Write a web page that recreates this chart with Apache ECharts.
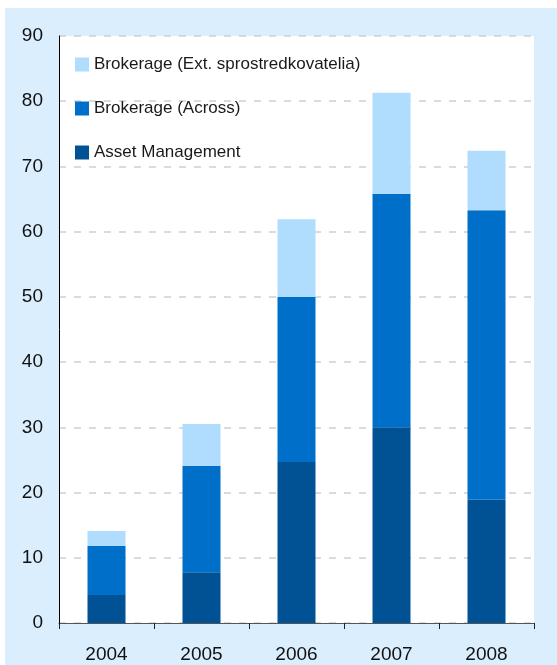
<!DOCTYPE html>
<html>
<head>
<meta charset="utf-8">
<script src="https://cdn.jsdelivr.net/npm/echarts@6/dist/echarts.min.js"></script>
<style>
html,body{margin:0;padding:0;background:#ffffff;}
#chart{width:557px;height:665px;}
</style>
</head>
<body>
<div id="chart"></div>
<script>
const categories = ['2004', '2005', '2006', '2007', '2008'];
const assetManagement = [4.3, 7.8, 24.7, 30.0, 18.9];
const brokerageAcross = [7.5, 16.3, 25.3, 35.8, 44.4];
const brokerageExt = [2.3, 6.4, 11.9, 15.5, 9.1];
const yTicks = { min: 0, max: 90, interval: 10 };
const seriesNames = ['Brokerage (Ext. sprostredkovatelia)', 'Brokerage (Across)', 'Asset Management'];

const chart = echarts.init(document.getElementById('chart'), null, { renderer: 'canvas' });
const font = '"Liberation Sans", Arial, sans-serif';
chart.setOption({
  animation: false,
  backgroundColor: 'transparent',
  graphic: [{
    type: 'rect', z: -10, silent: true,
    shape: { x: 5, y: 8, width: 552, height: 657 },
    style: { fill: '#dbeefd' }
  }],
  grid: {
    left: 59, right: 23, top: 36, bottom: 42,
    show: true, backgroundColor: '#ffffff', borderWidth: 0
  },
  legend: {
    orient: 'vertical',
    left: 75, top: 56,
    padding: 0,
    itemWidth: 14, itemHeight: 14, itemGap: 27, itemTextGap: 5,
    icon: 'rect',
    data: seriesNames,
    textStyle: { fontFamily: font, fontSize: 17, lineHeight: 17, color: '#1a1a1a' }
  },
  xAxis: {
    type: 'category',
    data: categories,
    axisLine: { lineStyle: { color: '#555555', width: 1 } },
    axisTick: { show: true, length: 6, lineStyle: { color: '#222222' } },
    axisLabel: { fontFamily: font, fontSize: 19, color: '#111111', margin: 22 }
  },
  yAxis: {
    type: 'value',
    min: yTicks.min, max: yTicks.max, interval: yTicks.interval,
    axisLine: { show: true, lineStyle: { color: '#000000', width: 1 } },
    axisTick: { show: false },
    axisLabel: { fontFamily: font, fontSize: 19, color: '#111111', margin: 16 },
    splitLine: { lineStyle: { color: '#cfcfcf', width: 1.5, type: [7, 8] } }
  },
  series: [
    { name: seriesNames[2], type: 'bar', stack: 'a', barWidth: '40%', data: assetManagement, itemStyle: { color: '#005294' } },
    { name: seriesNames[1], type: 'bar', stack: 'a', barWidth: '40%', data: brokerageAcross, itemStyle: { color: '#006fca' } },
    { name: seriesNames[0], type: 'bar', stack: 'a', barWidth: '40%', data: brokerageExt, itemStyle: { color: '#b0dcfd' } }
  ]
});
</script>
</body>
</html>
